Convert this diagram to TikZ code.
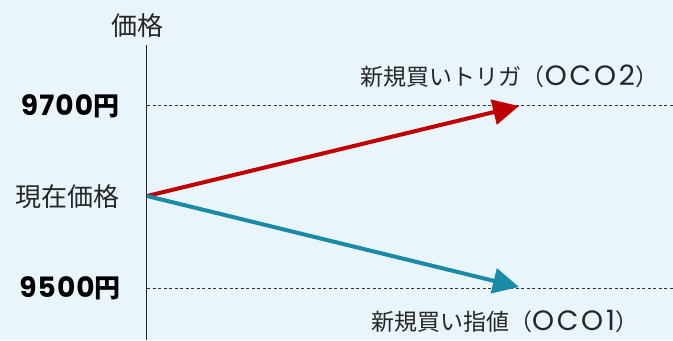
\documentclass[tikz,border=0pt]{standalone}
\usepackage{fontspec}
\setmainfont{Noto Sans CJK JP}
\newfontfamily\pop{Poppins}[LetterSpace=4]
\newfontfamily\popl{Poppins}[LetterSpace=10]
\usetikzlibrary{arrows.meta}
\definecolor{bg}{HTML}{E9F4FB}
\definecolor{upred}{HTML}{C00000}
\definecolor{dnteal}{HTML}{1A8BA7}
\tikzset{
  lbl/.style={font=\fontsize{23bp}{26bp}\selectfont, text=black!85, inner sep=0pt},
  axislbl/.style={font=\fontsize{26bp}{28bp}\selectfont, text=black!85, inner sep=0pt},
  price/.style={font=\fontsize{26bp}{28bp}\selectfont\bfseries, text=black, inner sep=0pt},
  level/.style={draw=black!80, line width=1bp, dash pattern=on 3bp off 2.5bp},
  mv/.style={line width=4bp, -{Triangle[length=26bp, width=25bp]}},
}
\newcommand{\dig}[1]{{\pop\fontsize{28bp}{30bp}\selectfont #1}}
\newcommand{\oco}[1]{{\popl\fontsize{28bp}{30bp}\selectfont #1}}
\begin{document}
\begin{tikzpicture}[x=1bp, y=-1bp]
\useasboundingbox[fill=bg] (0,0) rectangle (673,340);
% axis
\coordinate (axtop) at (146.5,45);
\coordinate (axbot) at (146.5,340);
\draw[line width=1.2bp, black!85] (axtop) -- (axbot);
\node[axislbl] (ylab) at (137,26) {価格};
% levels
\coordinate (l1s) at (147,105);
\coordinate (l1e) at (673,105);
\coordinate (l2s) at (147,288);
\coordinate (l2e) at (673,288);
\draw[level] (l1s) -- (l1e);
\draw[level] (l2s) -- (l2e);
\node[price] (p9700) at (70,106) {\dig{9700}円};
\node[price] (p9500) at (70,288) {\dig{9500}円};
\node[axislbl] (now) at (67.5,197) {現在価格};
% moves
\coordinate (start) at (147,196);
\coordinate (uptip) at (519,106);
\coordinate (dntip) at (519,287);
\draw[mv, upred] (start) -- (uptip);
\draw[mv, dnteal] (start) -- (dntip);
\node[lbl] (oco2) at (509.5,76) {新規買いトリガ（\oco{OCO2}）};
\node[lbl] (oco1) at (504.5,321) {新規買い指値（\oco{OCO1}）};
\end{tikzpicture}
\end{document}
